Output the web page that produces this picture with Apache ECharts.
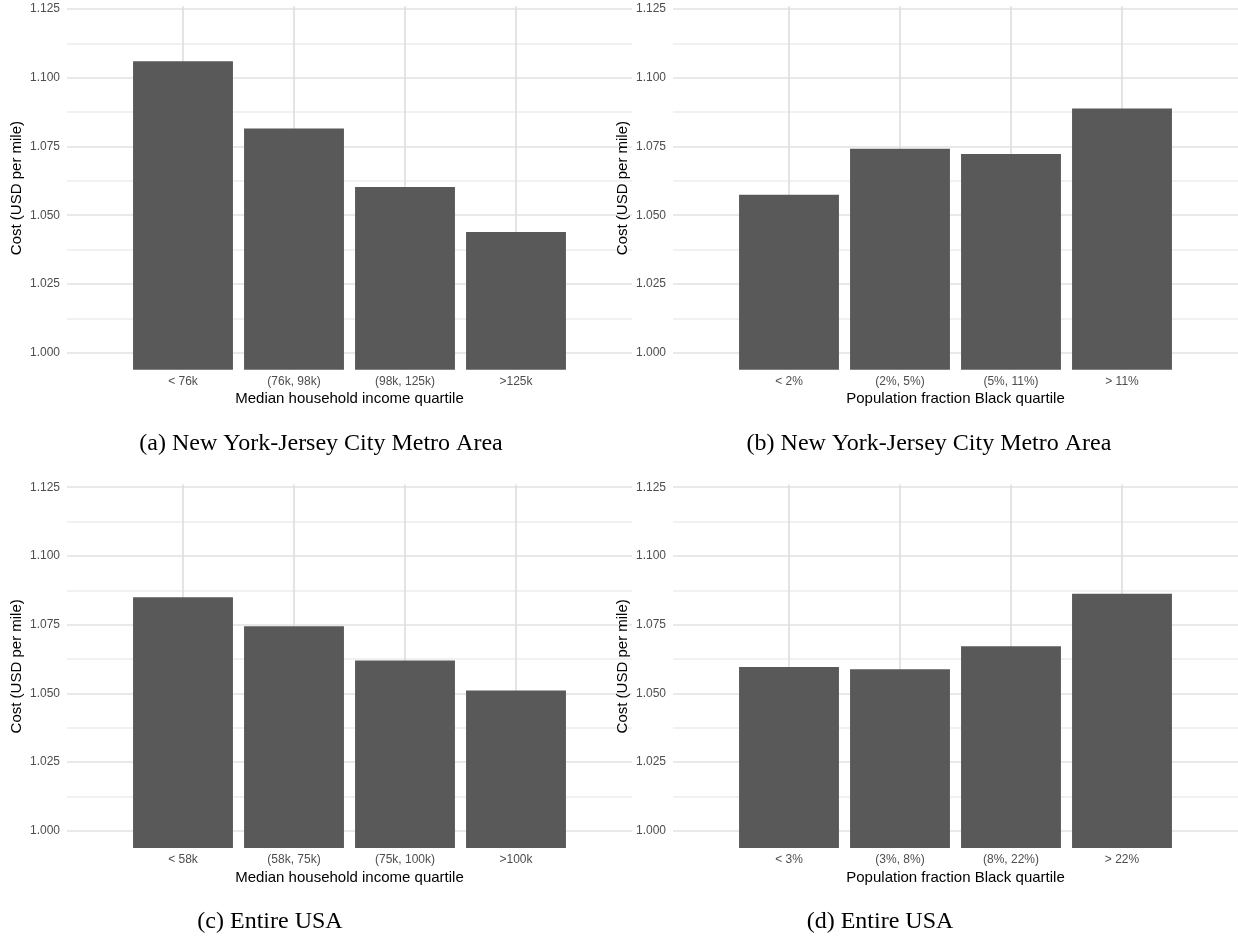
<!DOCTYPE html>
<html><head><meta charset="utf-8">
<script src="https://cdn.jsdelivr.net/npm/echarts@6/dist/echarts.min.js"></script>
<style>html,body{margin:0;padding:0;background:#fff}#c{width:1238px;height:938px}</style>
</head><body><div id="c"></div>
<script>
// ---- data ----
const yMin = 0.99375;
const yMax = 1.126;
const yStep = 0.00625;
const yTickLabels = ['1.000', '1.025', '1.050', '1.075', '1.100', '1.125'];

const categoriesA = ['< 76k', '(76k, 98k)', '(98k, 125k)', '>125k'];
const valuesA = [1.1060, 1.0815, 1.0603, 1.0439];
const categoriesB = ['< 2%', '(2%, 5%)', '(5%, 11%)', '> 11%'];
const valuesB = [1.0574, 1.0742, 1.0723, 1.0888];
const categoriesC = ['< 58k', '(58k, 75k)', '(75k, 100k)', '>100k'];
const valuesC = [1.0850, 1.0744, 1.0620, 1.0511];
const categoriesD = ['< 3%', '(3%, 8%)', '(8%, 22%)', '> 22%'];
const valuesD = [1.0596, 1.0588, 1.0672, 1.0863];

const yTitle = 'Cost (USD per mile)';
const xTitleIncome = 'Median household income quartile';
const xTitleBlack = 'Population fraction Black quartile';
const captions = ['(a) New York-Jersey City Metro Area', '(b) New York-Jersey City Metro Area', '(c) Entire USA', '(d) Entire USA'];

// ---- layout ----
const panels = [
  { cats: categoriesA, vals: valuesA, xTitle: xTitleIncome, left: 67, top: 6.25, capX: 321, capY: 443.5 },
  { cats: categoriesB, vals: valuesB, xTitle: xTitleBlack, left: 673, top: 6.25, capX: 929, capY: 443.5 },
  { cats: categoriesC, vals: valuesC, xTitle: xTitleIncome, left: 67, top: 484.5, capX: 270, capY: 922 },
  { cats: categoriesD, vals: valuesD, xTitle: xTitleBlack, left: 673, top: 484.5, capX: 880, capY: 922 }
];
const panelW = 565, panelH = 363.6, barInset = 60.5;
const sans = 'Liberation Sans';
const majorCol = '#e2e2e2', minorCol = '#ececec', clear = 'rgba(0,0,0,0)';

const grid = [], xAxis = [], yAxis = [], series = [], graphic = [];
panels.forEach((p, i) => {
  // wide grid: horizontal gridlines + y labels
  grid.push({ left: p.left, top: p.top, width: panelW, height: panelH, containLabel: false });
  const wi = grid.length - 1;
  xAxis.push({ gridIndex: wi, type: 'value', show: false, min: 0, max: 1 });
  yAxis.push({
    gridIndex: wi, type: 'value', min: yMin, max: yMax, interval: yStep,
    axisLine: { show: false }, axisTick: { show: false },
    axisLabel: {
      color: '#4d4d4d', fontSize: 12, fontFamily: sans, margin: 7,
      formatter: v => { const s = v.toFixed(3); return yTickLabels.includes(s) ? s : ''; }
    },
    splitLine: { show: true, lineStyle: { color: [clear, majorCol, clear, minorCol], width: 1.6 } },
    name: yTitle, nameLocation: 'middle', nameGap: 43,
    nameTextStyle: { color: '#000', fontSize: 15, fontFamily: sans }
  });
  // narrow grid: bars + vertical gridlines
  grid.push({ left: p.left + barInset, top: p.top, width: panelW - 2 * barInset, height: panelH, containLabel: false });
  const ni = grid.length - 1;
  xAxis.push({
    gridIndex: ni, type: 'category', data: p.cats,
    axisLine: { show: false }, axisTick: { show: false },
    axisLabel: { color: '#4d4d4d', fontSize: 12, fontFamily: sans, margin: 6 },
    splitLine: { show: true, alignWithLabel: true, lineStyle: { color: '#dedede', width: 1.6 } },
    name: p.xTitle, nameLocation: 'middle', nameGap: 22,
    nameTextStyle: { color: '#000', fontSize: 15, fontFamily: sans }
  });
  yAxis.push({ gridIndex: ni, type: 'value', min: yMin, max: yMax, show: false, splitLine: { show: false } });
  series.push({
    type: 'bar', xAxisIndex: xAxis.length - 1, yAxisIndex: yAxis.length - 1,
    data: p.vals, barCategoryGap: '10%', itemStyle: { color: '#595959' }, silent: true, clip: true
  });
  graphic.push({
    type: 'text', x: p.capX, y: p.capY, silent: true,
    style: { text: captions[i], fill: '#000', fontSize: 24, fontFamily: 'Liberation Serif', align: 'center', verticalAlign: 'middle' }
  });
});

const chart = echarts.init(document.getElementById('c'), null, { renderer: 'canvas' });
chart.setOption({
  animation: false,
  backgroundColor: '#fff',
  textStyle: { fontFamily: sans },
  grid, xAxis, yAxis, series, graphic
});
</script>
</body></html>
